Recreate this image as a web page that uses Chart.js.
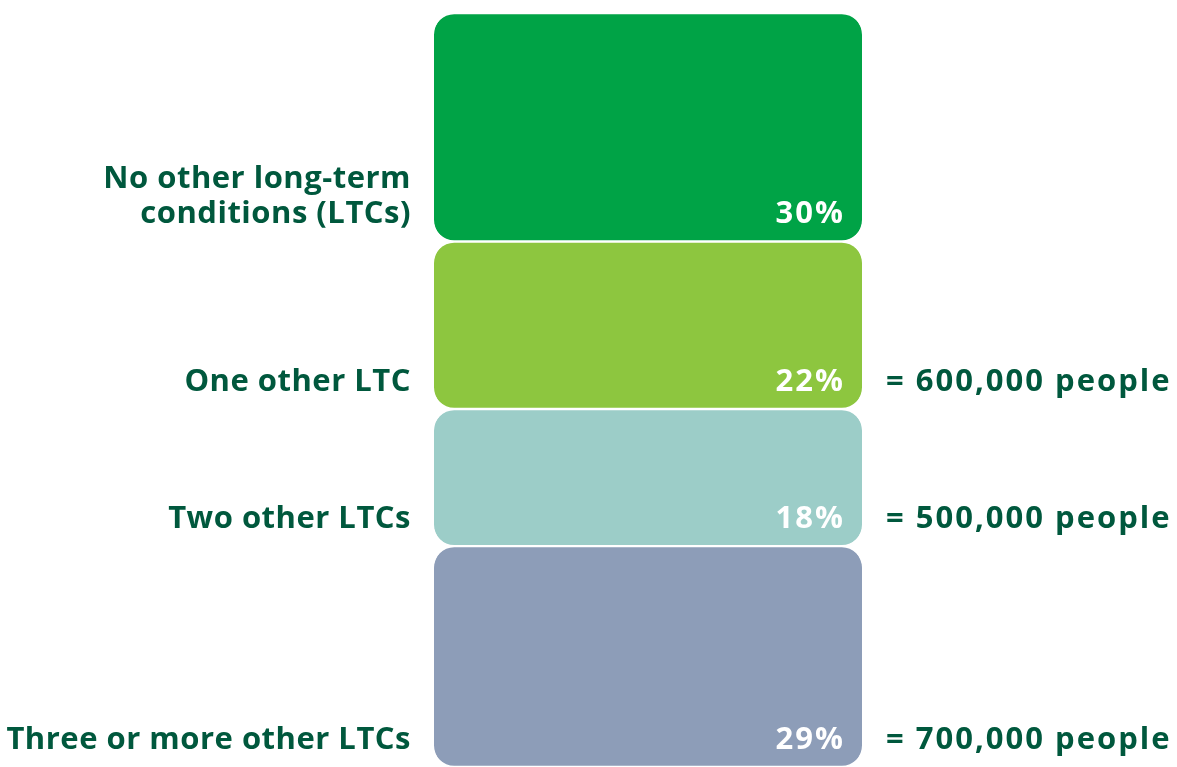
<!DOCTYPE html>
<html>
<head>
<meta charset="utf-8">
<script src="https://cdn.jsdelivr.net/npm/chart.js@4/dist/chart.umd.min.js"></script>
<style>
  html, body { margin: 0; padding: 0; background: #fff; }
  #wrap { width: 1177px; height: 767px; position: relative; }
</style>
</head>
<body>
<div id="wrap"><canvas id="ltcChart"></canvas></div>
<script>
const categories = [
  ['No other long-term', 'conditions (LTCs)'],
  ['One other LTC'],
  ['Two other LTCs'],
  ['Three or more other LTCs']
];
const shares = [30, 22, 18, 29];
const people = ['', '= 600,000 people', '= 500,000 people', '= 700,000 people'];
const colors = ['#00a346', '#8dc63f', '#9ccdc8', '#8d9db8'];

const textColor = '#00583d';
const font = 'bold 31px "Open Sans", Lato, sans-serif';

// each segment is a floating bar [start, end] so every one gets rounded corners
let running = 0;
const ranges = shares.map(v => { const r = [running, running + v]; running += v; return r; });

// labels sit on the bottom edge of each segment
const segmentLabels = {
  id: 'segmentLabels',
  afterDatasetsDraw(chart) {
    const ctx = chart.ctx;
    const area = chart.chartArea;
    ctx.save();
    ctx.font = font;
    ctx.textBaseline = 'alphabetic';
    chart.data.datasets.forEach((ds, i) => {
      const bar = chart.getDatasetMeta(i).data[0];
      const bottom = Math.max(bar.y, bar.base);
      const baseline = bottom - 18;
      const lines = categories[i];
      ctx.fillStyle = textColor;
      ctx.textAlign = 'right';
      ctx.letterSpacing = '0.5px';
      lines.forEach((line, j) => {
        ctx.fillText(line, area.left - 23, baseline - (lines.length - 1 - j) * 35);
      });
      ctx.fillStyle = '#ffffff';
      ctx.letterSpacing = '2px';
      ctx.fillText(shares[i] + '%', area.right - 17, baseline);
      if (people[i]) {
        ctx.fillStyle = textColor;
        ctx.textAlign = 'left';
        ctx.fillText(people[i], area.right + 24, baseline);
      }
    });
    ctx.restore();
  }
};

new Chart(document.getElementById('ltcChart'), {
  type: 'bar',
  data: {
    labels: ['All'],
    datasets: ranges.map((r, i) => ({
      label: categories[i].join(' '),
      data: [r],
      backgroundColor: colors[i],
      borderColor: '#ffffff',
      borderWidth: { top: 1.5, bottom: 1.5, left: 0, right: 0 },
      borderRadius: 22,
      borderSkipped: false,
      grouped: false,
      barPercentage: 1,
      categoryPercentage: 1
    }))
  },
  options: {
    responsive: true,
    maintainAspectRatio: false,
    animation: false,
    layout: { padding: { left: 434, right: 315, top: 13, bottom: 0 } },
    plugins: { legend: { display: false }, tooltip: { enabled: false } },
    scales: {
      x: { display: false },
      y: { display: false, reverse: true, min: 0, max: 99 }
    }
  },
  plugins: [segmentLabels]
});
</script>
</body>
</html>
